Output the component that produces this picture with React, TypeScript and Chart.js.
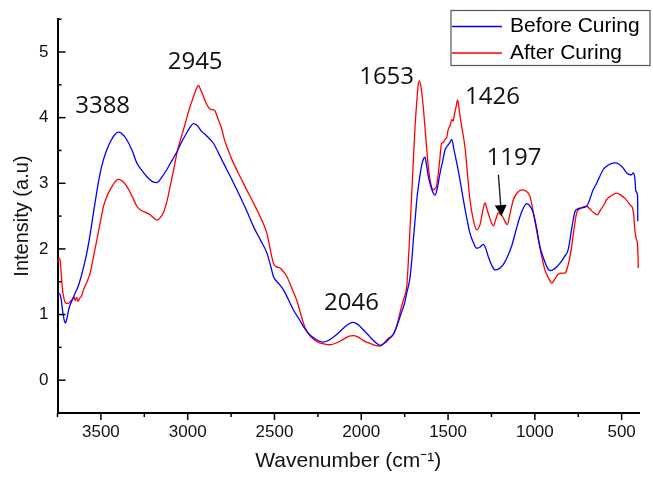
import React, { useEffect, useRef } from 'react';
import { Chart, registerables } from 'chart.js';

Chart.register(...registerables);

// ---- Data ----
const blueWn = [3748, 3740, 3730, 3720, 3710, 3704, 3695, 3685, 3677, 3665, 3648, 3635, 3619, 3600, 3581, 3562, 3543, 3523, 3504, 3485, 3466, 3440, 3420, 3400, 3380, 3350, 3320, 3293, 3265, 3235, 3205, 3178, 3150, 3120, 3090, 3062, 3035, 3005, 2985, 2967, 2945, 2920, 2890, 2852, 2815, 2775, 2735, 2698, 2660, 2621, 2580, 2544, 2520, 2506, 2475, 2449, 2420, 2391, 2360, 2334, 2300, 2260, 2220, 2180, 2140, 2100, 2070, 2046, 2020, 1985, 1950, 1920, 1892, 1870, 1850, 1835, 1815, 1796, 1770, 1750, 1738, 1720, 1709, 1698, 1690, 1680, 1671, 1660, 1650, 1640, 1633, 1625, 1615, 1604, 1590, 1575, 1560, 1546, 1530, 1517, 1500, 1490, 1479, 1465, 1450, 1430, 1412, 1393, 1374, 1355, 1335, 1315, 1297, 1282, 1268, 1250, 1230, 1205, 1182, 1158, 1134, 1110, 1086, 1065, 1047, 1030, 1009, 990, 971, 945, 925, 913, 885, 856, 830, 808, 785, 769, 759, 740, 702, 664, 644, 606, 587, 560, 539, 515, 491, 472, 452, 443, 433, 424, 418, 408, 407];
const blueI = [1.30, 1.32, 1.25, 1.05, 0.90, 0.87, 0.95, 1.08, 1.15, 1.22, 1.33, 1.40, 1.53, 1.72, 1.94, 2.22, 2.55, 2.88, 3.16, 3.36, 3.51, 3.66, 3.74, 3.78, 3.76, 3.66, 3.50, 3.31, 3.20, 3.10, 3.03, 3.01, 3.09, 3.21, 3.35, 3.48, 3.63, 3.77, 3.86, 3.91, 3.88, 3.79, 3.72, 3.61, 3.42, 3.21, 3.00, 2.80, 2.58, 2.34, 2.13, 1.94, 1.72, 1.58, 1.47, 1.38, 1.23, 1.07, 0.94, 0.82, 0.70, 0.62, 0.58, 0.62, 0.70, 0.80, 0.86, 0.88, 0.85, 0.76, 0.66, 0.58, 0.53, 0.56, 0.60, 0.64, 0.70, 0.82, 1.02, 1.18, 1.33, 1.55, 1.83, 2.20, 2.44, 2.75, 2.95, 3.15, 3.30, 3.38, 3.40, 3.30, 3.12, 3.00, 2.88, 2.82, 2.95, 3.16, 3.35, 3.51, 3.58, 3.62, 3.67, 3.50, 3.31, 3.03, 2.75, 2.48, 2.24, 2.10, 2.01, 2.03, 2.07, 2.00, 1.88, 1.76, 1.68, 1.70, 1.76, 1.88, 2.04, 2.27, 2.49, 2.63, 2.69, 2.66, 2.55, 2.32, 2.04, 1.82, 1.70, 1.67, 1.70, 1.78, 1.88, 1.99, 2.35, 2.57, 2.60, 2.62, 2.65, 2.90, 3.00, 3.21, 3.26, 3.30, 3.31, 3.29, 3.23, 3.16, 3.13, 3.13, 3.16, 3.08, 2.88, 2.80, 2.42];

const redWn = [3748, 3742, 3735, 3728, 3720, 3710, 3700, 3687, 3675, 3665, 3655, 3648, 3640, 3632, 3622, 3612, 3600, 3580, 3562, 3543, 3523, 3504, 3485, 3466, 3447, 3425, 3399, 3375, 3350, 3320, 3293, 3270, 3255, 3235, 3216, 3195, 3178, 3160, 3140, 3120, 3101, 3080, 3062, 3043, 3024, 3005, 2986, 2965, 2950, 2938, 2925, 2909, 2890, 2871, 2855, 2842, 2825, 2803, 2790, 2775, 2740, 2698, 2660, 2621, 2580, 2544, 2525, 2506, 2490, 2468, 2450, 2429, 2400, 2372, 2350, 2324, 2290, 2250, 2210, 2180, 2140, 2100, 2070, 2046, 2020, 1985, 1950, 1920, 1892, 1870, 1844, 1825, 1810, 1796, 1775, 1760, 1750, 1738, 1725, 1709, 1700, 1690, 1680, 1672, 1665, 1655, 1643, 1630, 1614, 1600, 1585, 1575, 1566, 1550, 1537, 1527, 1518, 1508, 1499, 1488, 1479, 1470, 1464, 1455, 1445, 1435, 1422, 1403, 1390, 1374, 1355, 1335, 1316, 1300, 1287, 1275, 1262, 1250, 1239, 1225, 1210, 1197, 1185, 1172, 1159, 1142, 1124, 1100, 1076, 1050, 1028, 1005, 980, 960, 942, 920, 903, 885, 867, 845, 827, 817, 800, 788, 770, 759, 740, 720, 702, 680, 660, 641, 620, 600, 587, 560, 529, 505, 481, 465, 452, 437, 430, 424, 414, 408, 404];
const redI = [1.80, 1.86, 1.83, 1.60, 1.35, 1.22, 1.17, 1.17, 1.20, 1.23, 1.27, 1.21, 1.26, 1.20, 1.25, 1.28, 1.38, 1.50, 1.63, 1.88, 2.14, 2.40, 2.65, 2.80, 2.90, 3.00, 3.06, 3.03, 2.95, 2.80, 2.65, 2.59, 2.57, 2.55, 2.52, 2.47, 2.44, 2.47, 2.55, 2.72, 2.95, 3.22, 3.46, 3.65, 3.82, 4.00, 4.17, 4.33, 4.44, 4.49, 4.42, 4.32, 4.20, 4.13, 4.12, 4.10, 3.98, 3.82, 3.68, 3.56, 3.33, 3.10, 2.90, 2.70, 2.48, 2.24, 2.00, 1.78, 1.73, 1.71, 1.66, 1.58, 1.40, 1.22, 1.02, 0.80, 0.66, 0.58, 0.55, 0.54, 0.57, 0.63, 0.67, 0.68, 0.66, 0.60, 0.56, 0.53, 0.52, 0.56, 0.64, 0.67, 0.72, 0.82, 1.05, 1.20, 1.28, 1.43, 2.00, 2.85, 3.35, 3.87, 4.25, 4.50, 4.56, 4.45, 4.17, 3.75, 3.26, 3.00, 2.90, 2.92, 2.96, 3.30, 3.61, 3.62, 3.67, 3.70, 3.82, 3.88, 3.97, 3.95, 4.04, 4.15, 4.27, 4.10, 3.87, 3.56, 3.20, 2.75, 2.45, 2.29, 2.37, 2.58, 2.70, 2.60, 2.49, 2.40, 2.35, 2.45, 2.55, 2.52, 2.49, 2.42, 2.37, 2.55, 2.75, 2.86, 2.90, 2.88, 2.80, 2.50, 2.14, 1.88, 1.68, 1.55, 1.48, 1.54, 1.61, 1.63, 1.63, 1.68, 1.85, 2.04, 2.38, 2.55, 2.61, 2.64, 2.65, 2.60, 2.55, 2.52, 2.60, 2.68, 2.75, 2.81, 2.85, 2.82, 2.77, 2.72, 2.67, 2.62, 2.50, 2.29, 2.14, 2.05, 1.71];

const seriesNames = ['Before Curing', 'After Curing'];
const xMajor = [3500, 3000, 2500, 2000, 1500, 1000, 500];
const xMinor = [3750, 3250, 2750, 2250, 1750, 1250, 750];
const yMajor = [0, 1, 2, 3, 4, 5];
const yMinor = [-0.5, 0.5, 1.5, 2.5, 3.5, 4.5, 5.5];

const peakLabels = ['3388', '2945', '2046', '1653', '1426', '1197'];
const peakLabelX = [3490, 2957, 2056, 1854, 1244, 1120];
const peakLabelY = [4.18, 4.84, 1.18, 4.62, 4.31, 3.39];
const arrowFrom = [1210, 3.13];
const arrowTo = [1192, 2.50];

const BLUE = '#0000ff';
const RED = '#ff0000';
const SANS = '"Liberation Sans", Arial, sans-serif';

const overlayPlugin = {
  id: 'overlay',
  afterDraw(chart: any) {
    const { ctx, chartArea } = chart;
    const xs = chart.scales.x;
    const ys = chart.scales.y;
    ctx.save();
    ctx.strokeStyle = '#000';
    ctx.lineWidth = 1.5;
    const line = (a: number, b: number, c: number, d: number) => {
      ctx.beginPath();
      ctx.moveTo(a, b);
      ctx.lineTo(c, d);
      ctx.stroke();
    };
    const yb = chartArea.bottom;
    xMajor.forEach((v) => { const p = xs.getPixelForValue(v); line(p, yb, p, yb + 7); });
    xMinor.forEach((v) => { const p = xs.getPixelForValue(v); line(p, yb, p, yb + 4); });
    const xl = chartArea.left;
    yMajor.forEach((v) => { const p = ys.getPixelForValue(v); line(xl, p, xl + 8, p); });
    yMinor.forEach((v) => { const p = ys.getPixelForValue(v); line(xl, p, xl + 4, p); });

    // peak labels
    ctx.fillStyle = '#111';
    ctx.font = '24px "Open Sans", sans-serif';
    ctx.textAlign = 'center';
    ctx.textBaseline = 'middle';
    peakLabels.forEach((t, i) => {
      ctx.fillText(t, xs.getPixelForValue(peakLabelX[i]), ys.getPixelForValue(peakLabelY[i]));
    });

    // arrow
    const x0 = xs.getPixelForValue(arrowFrom[0]);
    const y0 = ys.getPixelForValue(arrowFrom[1]);
    const x1 = xs.getPixelForValue(arrowTo[0]);
    const y1 = ys.getPixelForValue(arrowTo[1]);
    const ang = Math.atan2(y1 - y0, x1 - x0);
    const hl = 11, hw = 6;
    const bx = x1 - hl * Math.cos(ang);
    const by = y1 - hl * Math.sin(ang);
    ctx.strokeStyle = '#222';
    ctx.lineWidth = 1.4;
    line(x0, y0, bx, by);
    ctx.fillStyle = '#000';
    ctx.beginPath();
    ctx.moveTo(x1, y1);
    ctx.lineTo(bx + hw * Math.sin(ang), by - hw * Math.cos(ang));
    ctx.lineTo(bx - hw * Math.sin(ang), by + hw * Math.cos(ang));
    ctx.closePath();
    ctx.fill();

    // legend
    const lx = 451, ly = 10.5, lw = 199, lh = 55;
    ctx.fillStyle = '#fff';
    ctx.fillRect(lx, ly, lw, lh);
    ctx.strokeStyle = '#555';
    ctx.lineWidth = 1.2;
    ctx.strokeRect(lx, ly, lw, lh);
    ctx.font = `21px ${SANS}`;
    ctx.textAlign = 'left';
    ctx.textBaseline = 'middle';
    chart.data.datasets.forEach((ds: any, i: number) => {
      const yy = ly + 16 + i * 26.5;
      ctx.strokeStyle = ds.borderColor;
      ctx.lineWidth = 1.3;
      line(lx + 1, yy, lx + 51, yy);
      ctx.fillStyle = '#000';
      ctx.fillText(ds.label, lx + 59, yy);
    });
    ctx.restore();
  },
};

export default function App() {
  const ref = useRef<HTMLCanvasElement | null>(null);
  useEffect(() => {
    if (!ref.current) return;
    const chart = new Chart(ref.current, {
      type: 'line',
      data: {
        datasets: [
          {
            label: seriesNames[0],
            data: blueWn.map((x, i) => ({ x, y: blueI[i] })),
            borderColor: BLUE,
            borderWidth: 1.3,
            pointRadius: 0,
            cubicInterpolationMode: 'monotone',
            fill: false,
          },
          {
            label: seriesNames[1],
            data: redWn.map((x, i) => ({ x, y: redI[i] })),
            borderColor: RED,
            borderWidth: 1.3,
            pointRadius: 0,
            cubicInterpolationMode: 'monotone',
            fill: false,
          },
        ],
      },
      options: {
        responsive: false,
        animation: false,
        parsing: false as any,
        layout: { padding: { left: 0, right: 14, top: 19, bottom: 0 } },
        plugins: { legend: { display: false }, tooltip: { enabled: false } },
        scales: {
          x: {
            type: 'linear',
            reverse: true,
            min: 400,
            max: 3750,
            grid: { display: false, drawTicks: false },
            border: { display: true, color: '#000', width: 2 },
            ticks: {
              color: '#111',
              font: { size: 17, family: SANS },
              padding: 9,
              maxRotation: 0,
              autoSkip: false,
              callback: (v: any) => String(v),
            },
            afterBuildTicks: (s: any) => { s.ticks = xMajor.map((v) => ({ value: v })); },
            afterFit: (s: any) => { s.height = 67; },
            title: {
              display: true,
              text: 'Wavenumber (cm⁻¹)',
              color: '#111',
              font: { size: 21, family: SANS },
              padding: { top: 0, bottom: 6 },
            },
          },
          y: {
            type: 'linear',
            min: -0.5,
            max: 5.5,
            grid: { display: false, drawTicks: false },
            border: { display: true, color: '#000', width: 2 },
            ticks: {
              color: '#111',
              font: { size: 17, family: SANS },
              padding: 9,
              callback: (v: any) => String(v),
            },
            afterBuildTicks: (s: any) => { s.ticks = yMajor.map((v) => ({ value: v })); },
            afterFit: (s: any) => { s.width = 57.5; },
            title: {
              display: true,
              text: 'Intensity (a.u)',
              color: '#111',
              font: { size: 20, family: SANS },
              padding: { top: 10, bottom: 0 },
            },
          },
        },
      },
      plugins: [overlayPlugin],
    } as any);
    return () => chart.destroy();
  }, []);
  return (
    <div style={{ position: 'absolute', left: 0, top: 0, width: 653, height: 480, background: '#fff' }}>
      <canvas ref={ref} width={653} height={480} style={{ display: 'block' }} />
    </div>
  );
}
